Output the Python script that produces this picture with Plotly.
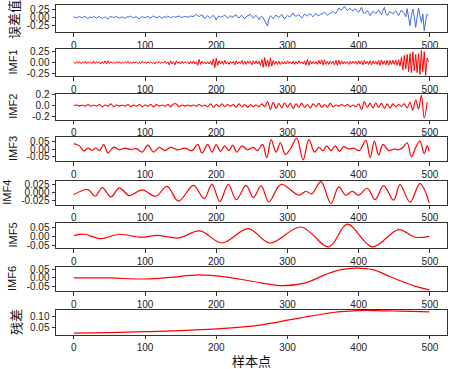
import plotly.graph_objects as go
from plotly.subplots import make_subplots

# ---------------- data ----------------
# error series and IMF1: one value every 2 samples
err_vals = [
    0.02, 0.00, -0.02, 0.01, 0.03, 0.00, -0.01, 0.02, 0.02, -0.01, -0.03, 0.00, 0.01, -0.01, 0.03, 0.00,
    -0.02, 0.01, 0.02, -0.01, -0.04, 0.00, 0.01, -0.02, -0.06, 0.00, 0.02, 0.01, -0.01, 0.01, 0.03, 0.00,
    -0.02, 0.00, 0.01, -0.01, -0.03, 0.00, 0.02, 0.01, 0.04, 0.00, -0.02, 0.01, 0.01, -0.02, -0.05, 0.00,
    0.02, 0.00, -0.01, 0.01, 0.03, 0.00, -0.02, 0.02, 0.04, 0.01, 0.00, -0.01, 0.03, 0.00, -0.03, 0.01,
    0.02, 0.00, 0.04, 0.01, -0.02, 0.01, 0.03, 0.00, 0.01, 0.02, 0.04, 0.01, -0.01, 0.02, 0.03, 0.01,
    0.02, 0.00, 0.05, 0.02, 0.03, 0.05, 0.09, 0.04, 0.02, 0.06, 0.08, 0.01, -0.04, 0.02, 0.05, 0.00,
    -0.02, 0.03, 0.06, 0.00, -0.08, 0.01, 0.04, 0.00, 0.01, 0.04, 0.07, 0.01, -0.03, 0.02, 0.05, 0.00,
    0.02, 0.04, 0.08, 0.01, -0.02, 0.03, 0.06, 0.00, -0.05, 0.02, 0.04, 0.06, 0.09, 0.02, -0.02, 0.03,
    0.06, 0.00, -0.07, 0.01, 0.03, -0.02, -0.10, -0.18, -0.26, -0.05, 0.05, 0.01, -0.04, 0.02, 0.07, 0.01,
    0.00, 0.05, 0.09, 0.01, -0.05, 0.02, 0.06, 0.03, 0.02, 0.07, 0.13, 0.05, 0.03, 0.06, 0.08, 0.02,
    -0.02, 0.04, 0.10, 0.06, 0.04, 0.08, 0.11, 0.05, 0.02, 0.07, 0.12, 0.06, 0.05, 0.09, 0.10, 0.12,
    0.15, 0.09, 0.06, 0.10, 0.12, 0.15, 0.18, 0.14, 0.12, 0.20, 0.28, 0.24, 0.22, 0.27, 0.33, 0.26,
    0.20, 0.24, 0.27, 0.22, 0.19, 0.25, 0.24, 0.18, 0.15, 0.22, 0.30, 0.16, 0.10, 0.15, 0.20, 0.14,
    0.05, 0.12, 0.18, 0.14, 0.12, 0.17, 0.22, 0.15, 0.08, 0.20, 0.30, 0.12, 0.06, 0.12, 0.18, 0.13,
    0.10, 0.16, 0.20, 0.12, 0.05, 0.14, 0.22, 0.15, 0.12, 0.02, 0.26, 0.00, -0.25, 0.05, 0.25, 0.02,
    -0.30, 0.00, 0.28, 0.05, -0.15, 0.10, -0.40, -0.10, 0.10, 0.06,
]

imf1_vals = [
    0.01, -0.02, 0.02, -0.01, 0.02, -0.02, 0.01, -0.01, 0.03, -0.02, 0.02, -0.01, 0.01, -0.02, 0.03, -0.02,
    0.02, -0.01, 0.01, -0.03, 0.02, -0.02, 0.04, -0.03, 0.04, -0.02, 0.02, -0.01, 0.01, -0.02, 0.02, -0.01,
    0.02, -0.02, 0.01, -0.01, 0.02, -0.01, 0.03, -0.02, 0.01, -0.02, 0.02, -0.01, 0.02, -0.02, 0.01, -0.02,
    0.03, -0.01, 0.01, -0.02, 0.02, -0.01, 0.02, -0.02, 0.01, -0.03, 0.02, -0.01, 0.02, -0.02, 0.01, -0.01,
    0.03, -0.02, 0.02, -0.05, 0.04, -0.03, 0.02, -0.05, 0.04, -0.02, 0.02, -0.03, 0.03, -0.02, 0.02, -0.01,
    0.02, -0.03, 0.03, -0.02, 0.04, -0.03, 0.02, -0.06, 0.07, -0.04, 0.03, -0.02, 0.02, -0.03, 0.02, -0.03,
    0.03, -0.05, 0.08, -0.11, 0.10, -0.06, 0.04, -0.03, 0.03, -0.04, 0.05, -0.03, 0.02, -0.04, 0.03, -0.02,
    0.03, -0.05, 0.04, -0.03, 0.02, -0.02, 0.05, -0.04, 0.03, -0.04, 0.03, -0.02, 0.03, -0.05, 0.04, -0.03,
    0.04, -0.03, 0.03, -0.06, 0.07, -0.10, 0.11, -0.08, 0.06, -0.09, 0.10, -0.08, 0.05, -0.04, 0.03, -0.04,
    0.03, -0.04, 0.02, -0.03, 0.02, -0.03, 0.04, -0.02, 0.02, -0.03, 0.03, -0.04, 0.02, -0.03, 0.04, -0.02,
    0.02, -0.03, 0.04, -0.05, 0.07, -0.06, 0.04, -0.03, 0.02, -0.03, 0.02, -0.04, 0.05, -0.03, 0.06, -0.05,
    0.06, -0.04, 0.03, -0.04, 0.03, -0.02, 0.03, -0.05, 0.05, -0.06, 0.05, -0.04, 0.04, -0.03, 0.03, -0.02,
    0.02, -0.04, 0.03, -0.03, 0.03, -0.02, 0.03, -0.04, 0.04, -0.03, 0.04, -0.05, 0.05, -0.03, 0.03, -0.04,
    0.04, -0.05, 0.04, -0.03, 0.03, -0.04, 0.05, -0.06, 0.06, -0.04, 0.04, -0.05, 0.05, -0.06, 0.05, -0.04,
    0.05, -0.04, 0.05, -0.06, 0.06, -0.08, 0.12, -0.16, 0.16, -0.14, 0.18, -0.20, 0.20, -0.22, 0.24, -0.18,
    0.18, -0.22, 0.20, -0.26, 0.27, -0.20, 0.24, -0.28, 0.10, 0.02,
]

# IMF2: one value every 4 samples
imf2_vals = [
    0.00, 0.01, -0.01, 0.01, -0.01, 0.02, -0.01, 0.01,
    -0.01, 0.02, -0.02, 0.01, -0.01, 0.03, -0.02, 0.01,
    -0.01, 0.01, -0.01, 0.02, -0.02, 0.01, -0.01, 0.02,
    -0.02, 0.01, -0.01, 0.02, -0.02, 0.02, -0.01, 0.01,
    -0.01, 0.02, -0.02, 0.03, 0.03, -0.02, 0.01, -0.01,
    0.01, -0.01, 0.01, -0.01, 0.02, -0.01, 0.01, -0.02,
    0.03, -0.03, 0.02, -0.02, 0.03, -0.02, 0.02, -0.01,
    0.02, -0.03, 0.03, -0.02, 0.02, -0.03, 0.02, -0.02,
    0.01, -0.02, 0.03, -0.02, 0.07, -0.07, 0.06, -0.05,
    0.04, -0.04, 0.05, -0.03, 0.04, -0.05, 0.03, -0.03,
    0.04, -0.03, 0.02, -0.04, 0.03, -0.02, 0.04, -0.03,
    0.02, -0.03, 0.04, -0.02, 0.01, -0.01, 0.02, -0.01,
    0.02, -0.02, 0.01, -0.02, 0.03, -0.07, 0.07, -0.03,
    0.04, -0.04, 0.05, -0.03, 0.04, -0.05, 0.03, -0.04,
    0.03, -0.02, 0.02, -0.01, 0.03, -0.04, 0.06, -0.08,
    0.10, -0.06, 0.18, -0.22, 0.06,
]

imf3_t = [0, 8, 14, 20, 26, 31, 36, 42, 48, 56, 64, 72, 80, 88, 96, 104, 112, 120, 128, 136,
          146, 156, 166, 174, 180, 188, 194, 200, 206, 212, 218, 223, 229, 236, 244, 252, 258, 265, 271, 277,
          284, 290, 297, 304, 313, 322, 330, 338, 344, 350, 355, 361, 367, 373, 379, 386, 393, 401, 410, 416,
          422, 428, 434, 442, 450, 456, 462, 468, 474, 480, 486, 492, 496, 499]
imf3_v = [0.035, 0.02, -0.012, 0.006, -0.008, 0.008, -0.01, 0.028, -0.025, 0.012, -0.005, 0.005, -0.003, 0.002, -0.02, 0.025, -0.02, 0.01, -0.01, 0.01,
          -0.005, 0.005, -0.01, 0.03, -0.025, 0.03, -0.02, 0.028, -0.015, 0.02, -0.01, 0.025, -0.02, 0.02, -0.005, 0.01, -0.01, 0.03, -0.055, 0.06,
          -0.02, 0.04, -0.035, 0.0, 0.07, -0.07, 0.06, -0.02, 0.01, -0.01, 0.02, -0.01, 0.02, -0.015, 0.015, 0.0, 0.005, -0.01, 0.055, -0.055,
          0.05, -0.04, 0.03, -0.01, 0.0, -0.005, 0.01, 0.04, -0.05, 0.01, 0.05, -0.03, 0.02, -0.015]

imf4_t = [0, 20, 30, 40, 52, 64, 78, 96, 115, 131, 147, 168, 183, 194, 205, 217, 228, 242, 252, 263,
          274, 291, 316, 326, 334, 347, 361, 372, 382, 391, 400, 412, 423, 435, 449, 458, 472, 486, 499]
imf4_v = [-0.006, 0.009, -0.011, 0.015, -0.013, 0.014, -0.009, 0.008, -0.011, 0.019,
          -0.026, 0.022, -0.018, 0.025, -0.027, 0.025, -0.021, 0.022, -0.015, 0.02,
          -0.028, 0.025, -0.008, 0.004, -0.004, 0.033, -0.033, 0.017, -0.008, 0.004,
          -0.008, 0.013, -0.021, 0.021, -0.023, 0.024, -0.029, 0.027, -0.031]

imf5_t = [0, 15, 38, 64, 94, 117, 147, 177, 208, 245, 275, 319, 358, 384, 419, 456, 479, 499]
imf5_v = [0.004, 0.011, -0.013, 0.011, -0.005, 0.005, -0.009, 0.029, -0.036, 0.041, -0.036, 0.05,
          -0.057, 0.065, -0.057, 0.036, -0.005, 0.0]

imf6_t = [0, 50, 100, 135, 175, 215, 250, 293, 325, 354, 375, 396, 420, 437, 460, 480, 499]
imf6_v = [0.0, -0.001, -0.007, 0.002, 0.017, 0.004, -0.02, -0.046, -0.03, 0.02, 0.048, 0.057,
          0.048, 0.02, -0.02, -0.05, -0.07]

res_t = [0, 50, 100, 150, 200, 250, 280, 300, 325, 350, 375, 400, 425, 450, 475, 499]
res_v = [0.024, 0.027, 0.031, 0.036, 0.044, 0.057, 0.072, 0.085, 0.100, 0.114, 0.125, 0.130,
         0.130, 0.128, 0.126, 0.124]

panel_labels = ["误差值", "IMF1", "IMF2", "IMF3", "IMF4", "IMF5", "IMF6", "残差"]
x_ticks = [0, 100, 200, 300, 400, 500]
y_ticks = [
    [-0.25, 0.0, 0.25], [-0.25, 0.0, 0.25], [-0.2, 0.0, 0.2], [-0.05, 0.0, 0.05],
    [-0.025, 0.0, 0.025], [-0.05, 0.0, 0.05], [-0.05, 0.0, 0.05], [0.05, 0.10],
]
y_ticktext = [
    ["-0.25", "0.00", "0.25"], ["-0.25", "0.00", "0.25"], ["-0.2", "0.0", "0.2"],
    ["-0.05", "0.00", "0.05"], ["-0.025", "0.000", "0.025"], ["-0.05", "0.00", "0.05"],
    ["-0.05", "0.00", "0.05"], ["0.05", "0.10"],
]
x_title = "样本点"

# ---------------- layout constants ----------------
W, H = 452, 369
panel_px = [(5, 32), (49, 76), (94, 119.5), (137, 161), (181, 204.5), (223, 248), (267, 291), (309.5, 334.5)]
y_ranges = [(-0.44, 0.37), (-0.295, 0.30), (-0.246, 0.205), (-0.077, 0.077),
            (-0.036, 0.035), (-0.063, 0.0715), (-0.077, 0.063), (0.018, 0.135)]
label_x_px = [14, 13, 13, 13, 7, 12, 12, 15]
label_y_px = [20, None, None, None, None, None, None, None]
BLUE = "#4169E1"
RED = "#FF0000"
AX = "#333333"
TICKFONT = dict(family="Liberation Sans, Arial, sans-serif", size=10, color="#222222")
CJK = "Noto Sans CJK SC, sans-serif"

fig = make_subplots(rows=8, cols=1)

def stepped(vals, step):
    return [step * i for i in range(len(vals))]

series = [
    (stepped(err_vals, 2), err_vals, BLUE, "linear", 1.0),
    (stepped(imf1_vals, 2), imf1_vals, RED, "linear", 1.0),
    (stepped(imf2_vals, 4), imf2_vals, RED, "spline", 1.1),
    (imf3_t, imf3_v, RED, "spline", 1.2),
    (imf4_t, imf4_v, RED, "spline", 1.2),
    (imf5_t, imf5_v, RED, "spline", 1.2),
    (imf6_t, imf6_v, RED, "spline", 1.2),
    (res_t, res_v, RED, "spline", 1.2),
]

for i, (xs, ys, col, shape, lw) in enumerate(series):
    fig.add_trace(go.Scatter(x=xs, y=ys, mode="lines",
                             line=dict(color=col, width=lw, shape=shape),
                             hoverinfo="skip"), row=i + 1, col=1)

annotations = []
for i in range(8):
    top, bot = panel_px[i]
    sfx = "" if i == 0 else str(i + 1)
    fig.layout["xaxis" + sfx].update(
        domain=[56 / W, 447 / W], range=[-24.95, 523.95], automargin=False,
        tickvals=x_ticks, ticks="outside", ticklen=3.5, tickwidth=0.8, tickcolor=AX,
        showline=True, linecolor=AX, linewidth=1, mirror=True,
        showgrid=False, zeroline=False, tickfont=TICKFONT)
    fig.layout["yaxis" + sfx].update(
        domain=[1 - bot / H, 1 - top / H], range=list(y_ranges[i]), automargin=False,
        tickvals=y_ticks[i], ticktext=y_ticktext[i],
        ticks="outside", ticklen=3.5, tickwidth=0.8, tickcolor=AX,
        showline=True, linecolor=AX, linewidth=1, mirror=True,
        showgrid=False, zeroline=False, tickfont=TICKFONT)
    is_cjk = i in (0, 7)
    ly = label_y_px[i] if label_y_px[i] is not None else (top + bot) / 2
    annotations.append(dict(
        text=panel_labels[i], textangle=-90, showarrow=False,
        xref="paper", yref="paper",
        x=label_x_px[i] / W, y=1 - ly / H,
        xanchor="center", yanchor="middle",
        font=dict(family=CJK if is_cjk else "Liberation Sans, Arial, sans-serif",
                  size=13 if is_cjk else 11, color="#111111")))

annotations.append(dict(
    text=x_title, showarrow=False, xref="paper", yref="paper",
    x=251.5 / W, y=1 - 360 / H, xanchor="center", yanchor="middle",
    font=dict(family=CJK, size=13, color="#111111")))

fig.update_layout(
    width=W, height=H, margin=dict(l=0, r=0, t=0, b=0),
    paper_bgcolor="white", plot_bgcolor="white",
    showlegend=False, annotations=annotations)

fig.write_html("out.html", config={"displayModeBar": False},
               post_script="document.body.style.margin='0px';document.body.style.overflow='hidden';")
